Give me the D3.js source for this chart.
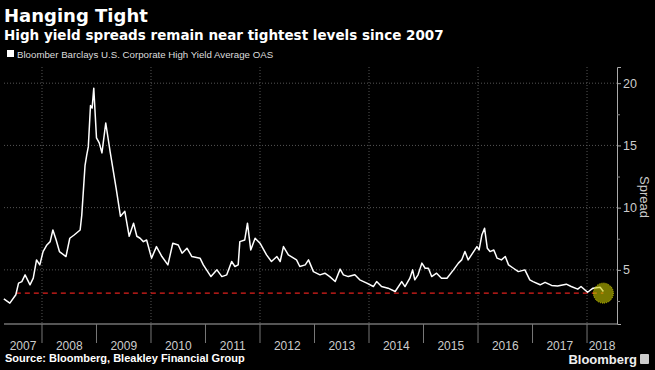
<!DOCTYPE html>
<html><head><meta charset="utf-8">
<script src="https://cdn.jsdelivr.net/npm/d3@7"></script>
<style>html,body{margin:0;padding:0;background:#000;}svg{display:block;}</style>
</head><body><svg id="c" width="655" height="370"></svg>
<script>
const title = "Hanging Tight";
const subtitle = "High yield spreads remain near tightest levels since 2007";
const seriesName = "Bloomber Barclays U.S. Corporate High Yield Average OAS";
const source = "Source: Bloomberg, Bleakley Financial Group";
const yTicks = [5, 10, 15, 20];
const yMinorTicks = [2.5, 7.5, 12.5, 17.5];
const years = [2007, 2008, 2009, 2010, 2011, 2012, 2013, 2014, 2015, 2016, 2017, 2018];
const gridYears = [2008, 2010, 2012, 2014, 2016, 2018];
const refLevel = 3.13;
const refStart = 2007.52;
const lastPoint = [2018.30, 3.26];
// decimal-year dates and OAS spread values (%)
const dates = [2007.30,2007.41,2007.52,2007.57,2007.63,2007.69,2007.78,2007.84,2007.90,2007.96,
2008.02,2008.09,2008.15,2008.20,2008.26,2008.32,2008.44,2008.51,2008.59,2008.70,2008.73,2008.79,2008.82,2008.85,2008.89,2008.92,2008.95,
2009.00,2009.05,2009.10,2009.17,2009.25,2009.36,2009.44,2009.52,2009.60,2009.68,2009.74,2009.80,2009.86,2009.92,
2010.01,2010.10,2010.20,2010.31,2010.40,2010.50,2010.57,2010.66,2010.75,2010.90,2010.96,
2011.10,2011.21,2011.30,2011.39,2011.48,2011.54,2011.60,2011.63,2011.72,2011.77,2011.83,2011.91,
2012.00,2012.12,2012.21,2012.31,2012.37,2012.43,2012.52,2012.67,2012.73,2012.83,2012.89,2012.98,
2013.10,2013.19,2013.28,2013.38,2013.47,2013.53,2013.62,2013.74,2013.83,2013.96,
2014.08,2014.14,2014.23,2014.35,2014.48,2014.60,2014.66,2014.75,2014.80,2014.84,2014.90,2014.97,
2015.03,2015.09,2015.15,2015.24,2015.33,2015.43,2015.55,2015.64,2015.70,2015.76,2015.82,2015.88,2015.98,
2016.02,2016.07,2016.12,2016.17,2016.22,2016.29,2016.35,2016.43,2016.50,2016.56,2016.65,2016.74,2016.86,2016.95,
2017.01,2017.14,2017.23,2017.35,2017.46,2017.62,2017.71,2017.83,2017.89,
2018.01,2018.11,2018.24,2018.30];
const spreads = [2.67,2.33,3.0,3.93,4.06,4.6,3.8,4.33,5.8,5.4,
6.47,7.0,7.27,8.2,7.4,6.47,6.07,7.54,7.8,8.2,9.4,13.4,14.2,14.9,18.2,18.0,19.6,
15.6,15.2,14.4,16.8,14.5,11.56,9.3,9.7,7.7,8.75,7.7,7.54,7.27,7.4,
5.94,6.87,6.07,5.4,7.14,7.0,6.34,6.74,6.07,5.94,5.4,
4.46,5.0,4.46,4.6,5.67,5.27,5.4,7.27,7.4,8.75,6.6,7.54,
7.14,6.2,5.67,6.07,5.67,6.87,6.2,5.8,5.27,5.4,5.8,4.86,
4.6,4.73,4.46,4.06,5.06,4.6,4.46,4.6,4.2,3.93,
3.66,4.06,3.66,3.53,3.26,4.06,3.66,4.33,5.0,4.2,4.6,5.54,
5.13,5.13,4.46,4.73,4.33,4.33,5.0,5.54,5.8,6.47,5.8,6.2,6.87,
6.6,7.8,8.35,6.74,6.47,6.6,5.94,5.8,6.07,5.4,5.13,4.86,5.0,4.2,
4.06,3.8,4.0,3.75,3.7,3.85,3.66,3.45,3.66,
3.2,3.53,3.6,3.26];

const svg = d3.select("#c");
svg.append("rect").attr("width",655).attr("height",370).attr("fill","#000");

const x = d3.scaleLinear().domain([2007.303, 2018.55]).range([4, 617]);
const y = d3.scaleLinear().domain([0.65, 21.3]).range([324, 67]);

// titles
svg.append("text").attr("x",4).attr("y",22).text(title)
  .attr("fill","#fff").attr("font-family","DejaVu Sans").attr("font-weight","bold").attr("font-size",18);
svg.append("text").attr("x",4).attr("y",40).text(subtitle)
  .attr("fill","#fff").attr("font-family","DejaVu Sans").attr("font-weight","bold").attr("font-size",13.5);
svg.append("rect").attr("x",7).attr("y",50).attr("width",7).attr("height",7).attr("fill","#fff");
svg.append("text").attr("x",17).attr("y",58).text(seriesName)
  .attr("fill","#ddd").attr("font-family","Liberation Sans").attr("font-size",9.7);

// gridlines
const g = svg.append("g");
g.selectAll(".hg").data(yTicks).join("line")
  .attr("x1",4).attr("x2",617).attr("y1",d=>y(d)).attr("y2",d=>y(d))
  .attr("stroke","#555").attr("stroke-dasharray","1,2");
g.selectAll(".vg").data(gridYears).join("line")
  .attr("x1",d=>x(d)).attr("x2",d=>x(d)).attr("y1",67).attr("y2",324)
  .attr("stroke","#555").attr("stroke-dasharray","1,2");

// right axis
const yAxis = d3.axisRight(y).tickValues(yTicks).tickSize(4).tickPadding(2);
const ya = svg.append("g").attr("transform","translate(617,0)").call(yAxis);
ya.select(".domain").attr("stroke","#aaa");
ya.selectAll(".tick line").attr("stroke","#aaa");
ya.selectAll(".tick text").attr("fill","#ccc").attr("font-family","Liberation Sans").attr("font-size",12.5);
const yMinor = d3.axisRight(y).tickValues(yMinorTicks).tickSize(3).tickFormat("");
const ym = svg.append("g").attr("transform","translate(617,0)").call(yMinor);
ym.select(".domain").remove();
ym.selectAll(".tick line").attr("stroke","#888");

svg.append("text").attr("transform","translate(640,197) rotate(90)").attr("text-anchor","middle")
  .text("Spread").attr("fill","#ccc").attr("font-family","Liberation Sans").attr("font-size",13);

// bottom axis band
svg.append("line").attr("x1",4).attr("x2",617).attr("y1",324).attr("y2",324).attr("stroke","#aaa");
svg.selectAll(".sep").data(years.slice(1)).join("line")
  .attr("x1",d=>x(d)).attr("x2",d=>x(d)).attr("y1",324).attr("y2",343).attr("stroke","#777");
const [x0, x1] = x.domain();
svg.selectAll(".yl").data(years).join("text")
  .attr("x",d=>(x(Math.max(d,x0))+x(Math.min(d+1,x1)))/2).attr("y",350)
  .attr("text-anchor","middle").text(d=>d)
  .attr("fill","#ccc").attr("font-family","Liberation Sans").attr("font-size",12);

// reference line
svg.append("line").attr("x1",x(refStart)).attr("x2",x(lastPoint[0])).attr("y1",y(refLevel)).attr("y2",y(refLevel))
  .attr("stroke","#e0201c").attr("stroke-width",1.2).attr("stroke-dasharray","5,4");

// series
const line = d3.line().x((d,i)=>x(dates[i])).y(d=>y(d));
svg.append("path").datum(spreads).attr("d",line).attr("fill","none")
  .attr("stroke","#fff").attr("stroke-width",1.5).attr("stroke-linejoin","round");

// highlight circle
svg.append("circle").attr("cx",x(lastPoint[0])).attr("cy",y(refLevel)).attr("r",10)
  .attr("fill","rgba(200,200,0,0.6)").attr("stroke","#c8c800").attr("stroke-dasharray","1,1");

// footer
svg.append("text").attr("x",5).attr("y",362).text(source)
  .attr("fill","#fff").attr("font-family","Liberation Sans").attr("font-weight","bold").attr("font-size",11);
svg.append("text").attr("x",637).attr("y",364).attr("text-anchor","end").text("Bloomberg")
  .attr("fill","#eee").attr("font-family","Liberation Sans").attr("font-weight","bold").attr("font-size",13);
svg.append("rect").attr("x",640).attr("y",354).attr("width",9).attr("height",10).attr("fill","#ccc").attr("rx",1);
</script></body></html>
